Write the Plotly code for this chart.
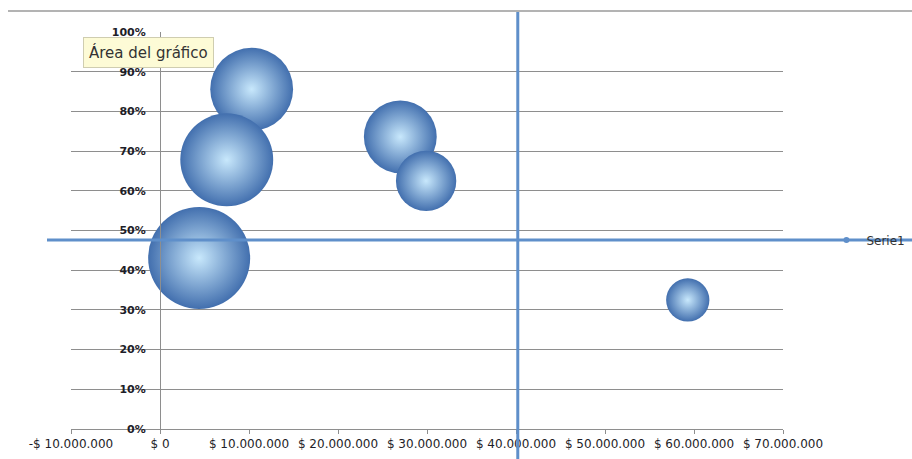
import plotly.graph_objects as go

# ---- data ----
x_values = [10.3e6, 7.5e6, 27.0e6, 29.9e6, 4.4e6, 59.3e6]     # monto ($)
y_values = [0.856, 0.678, 0.736, 0.625, 0.431, 0.325]          # porcentaje
bubble_sizes = [66, 83, 51, 35, 100, 18]                       # tamaño (área)
series_name = "Serie1"

x_tick_vals = [-10e6, 0, 10e6, 20e6, 30e6, 40e6, 50e6, 60e6, 70e6]
x_tick_text = ["-$ 10.000.000", "$ 0", "$ 10.000.000", "$ 20.000.000",
               "$ 30.000.000", "$ 40.000.000", "$ 50.000.000",
               "$ 60.000.000", "$ 70.000.000"]
y_tick_vals = [i / 10 for i in range(11)]
y_tick_text = [f"{i*10}%" for i in range(11)]

ref_x = 40.2e6   # vertical reference line
ref_y = 0.476    # horizontal reference line
tooltip_text = "Área del gráfico"

# ---- figure ----
W, H = 912, 459
L, R, T, B = 71, 129, 32, 30
x_min, x_max = -10e6, 70e6
max_diam = 102
smax = max(bubble_sizes)
diams = [max_diam * (s / smax) ** 0.5 for s in bubble_sizes]

line_blue = "#5f8fca"
grid = "#8e8e8e"

fig = go.Figure()
fig.add_trace(go.Scatter(
    x=x_values, y=y_values, mode="markers", name=series_name,
    showlegend=False,
    marker=dict(size=diams, sizemode="diameter", opacity=1,
                color="#426fae",
                gradient=dict(type="radial", color="#c8e8fc"),
                line=dict(width=0)),
))
# legend entry (line + marker), as in the reference
fig.add_trace(go.Scatter(
    x=[None], y=[None], mode="lines+markers", name=series_name,
    line=dict(color=line_blue, width=2),
    marker=dict(color=line_blue, size=6),
))

pos_y_axis = (0 - x_min) / (x_max - x_min)

fig.update_layout(
    width=W, height=H,
    margin=dict(l=L, r=R, t=T, b=B, pad=0, autoexpand=False),
    paper_bgcolor="white", plot_bgcolor="white",
    font=dict(family="DejaVu Sans", size=12, color="#1e1e28"),
    xaxis=dict(range=[x_min, x_max], tickvals=x_tick_vals, ticktext=x_tick_text,
               showgrid=False, zeroline=False, showline=True, linecolor=grid,
               linewidth=1, ticks="outside", ticklen=4, tickcolor=grid,
               tickfont=dict(size=12), fixedrange=True, automargin=False),
    yaxis=dict(range=[0, 1], tickvals=y_tick_vals, ticktext=y_tick_text,
               showgrid=True, gridcolor=grid, gridwidth=1, zeroline=False,
               showline=True, linecolor=grid, linewidth=1,
               anchor="free", position=pos_y_axis,
               ticks="", ticklabelstandoff=12,
               tickfont=dict(size=11, family="DejaVu Sans", weight="bold"),
               fixedrange=True, automargin=False),
    legend=dict(x=1.061, y=ref_y, xanchor="left", yanchor="middle",
                bgcolor="rgba(0,0,0,0)", font=dict(size=12, color="#333"),
                itemwidth=30),
    showlegend=True,
)

# top border line
fig.add_shape(type="line", xref="paper", yref="paper",
              x0=(8 - L) / (W - L - R), x1=(W - L) / (W - L - R),
              y0=(H - B - 11) / (H - T - B), y1=(H - B - 11) / (H - T - B),
              line=dict(color="#9a9a9a", width=1.5), layer="above")
# reference lines
fig.add_shape(type="line", xref="x", yref="paper", x0=ref_x, x1=ref_x,
              y0=-B / (H - T - B) - 0.01, y1=(H - B - 12) / (H - T - B),
              line=dict(color=line_blue, width=3), layer="above")
fig.add_shape(type="line", xref="paper", yref="y",
              x0=(47 - L) / (W - L - R), x1=(W - L) / (W - L - R),
              y0=ref_y, y1=ref_y,
              line=dict(color=line_blue, width=3), layer="above")

# tooltip-like label
fig.add_annotation(text=tooltip_text, xref="paper", yref="paper",
                   x=(83 - L) / (W - L - R), y=(H - B - 37) / (H - T - B),
                   xanchor="left", yanchor="top", showarrow=False,
                   font=dict(size=15, color="#333333", family="DejaVu Sans"),
                   bgcolor="#fdfbd6", bordercolor="#cfcdb0", borderwidth=1,
                   borderpad=5)

fig.write_html("out.html")
